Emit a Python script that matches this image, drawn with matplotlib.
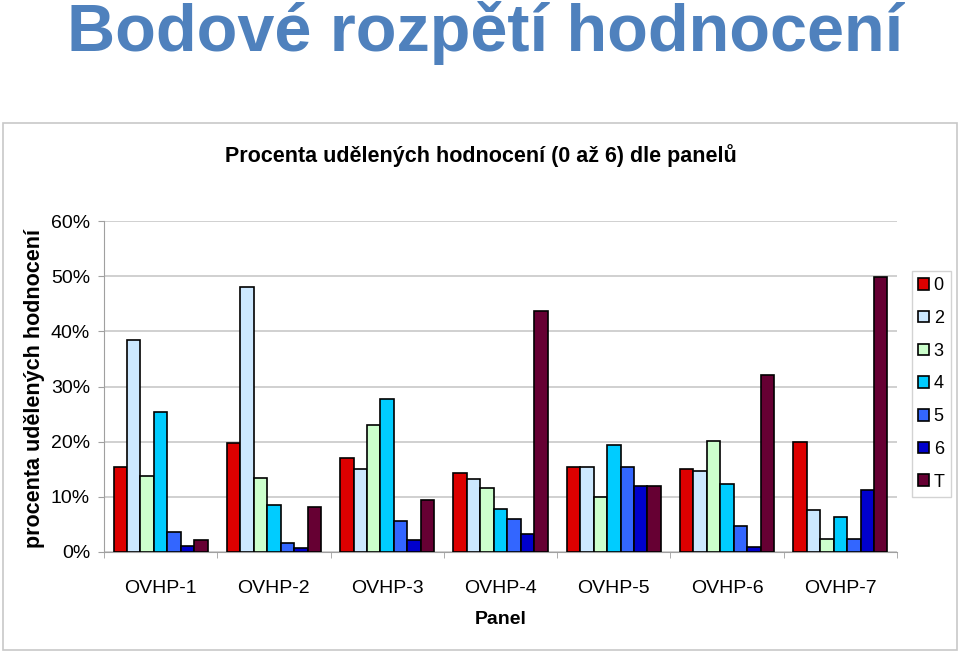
import matplotlib
matplotlib.use("Agg")
import matplotlib.pyplot as plt
import numpy as np
from matplotlib.patches import Rectangle
from matplotlib.ticker import FuncFormatter, FixedLocator

panels = ["OVHP-1", "OVHP-2", "OVHP-3", "OVHP-4", "OVHP-5", "OVHP-6", "OVHP-7"]
series_names = ["0", "2", "3", "4", "5", "6", "T"]
s0 = [15.4, 19.7, 17.0, 14.3, 15.4, 15.1, 20.0]
s2 = [38.5, 48.0, 15.1, 13.2, 15.4, 14.6, 7.6]
s3 = [13.7, 13.4, 23.0, 11.6, 9.9, 20.2, 2.4]
s4 = [25.3, 8.6, 27.8, 7.8, 19.4, 12.4, 6.3]
s5 = [3.7, 1.6, 5.7, 6.0, 15.4, 4.8, 2.4]
s6 = [1.1, 0.8, 2.1, 3.3, 12.0, 0.9, 11.3]
sT = [2.1, 8.1, 9.5, 43.7, 12.0, 32.1, 49.9]
series = [s0, s2, s3, s4, s5, s6, sT]
colors = ["#DD0000", "#CCE8FF", "#CCFFCC", "#00CCFF", "#3366FF", "#0000CC", "#660033"]

W, H = 960, 654
fig = plt.figure(figsize=(W / 100, H / 100), dpi=100)
fam = ["Liberation Sans", "DejaVu Sans"]

# outer chart frame
fig.patches.append(Rectangle((3 / W, 1 - 650 / H), 954 / W, 527 / H, transform=fig.transFigure,
                             fill=False, edgecolor="#C8C8C8", linewidth=1.2))

fig.text(485 / W, 1 - 51 / H, "Bodové rozpětí hodnocení", ha="center", va="baseline",
         fontsize=48, fontweight="bold", color="#4F81BD", family=fam)
fig.text(481 / W, 1 - 156 / H, "Procenta udělených hodnocení (0 až 6) dle panelů", ha="center",
         va="center", fontsize=15.5, fontweight="bold", color="black", family=fam)

left, right, top, bottom = 104, 897, 221, 552
ax = fig.add_axes([left / W, 1 - bottom / H, (right - left) / W, (bottom - top) / H])

n = len(series)
bw = 0.83 / n
x = np.arange(len(panels))
for i, (vals, c, name) in enumerate(zip(series, colors, series_names)):
    pos = x - 0.415 + bw * (i + 0.5)
    ax.bar(pos, vals, width=bw, color=c, edgecolor="black", linewidth=1.2, label=name, zorder=3)

ax.set_xlim(-0.5, len(panels) - 0.5)
ax.set_ylim(0, 60)
ax.set_yticks(np.arange(0, 61, 10))
ax.yaxis.set_major_formatter(FuncFormatter(lambda v, p: f"{int(v)}%"))
ax.set_xticks(x)
ax.set_xticklabels(panels, fontsize=14, family=fam)
ax.xaxis.set_minor_locator(FixedLocator(np.arange(-0.5, len(panels), 1)))
ax.tick_params(axis="x", which="major", length=0, pad=20)
ax.tick_params(axis="x", which="minor", length=4, color="#A0A0A0", direction="out")
ax.tick_params(axis="y", length=4, color="#A0A0A0", labelsize=14, pad=6)
for lbl in ax.get_yticklabels():
    lbl.set_family(fam)
ax.grid(axis="y", color="#C8C8C8", linewidth=1.2, zorder=0)
for s in ["top", "right"]:
    ax.spines[s].set_visible(False)
for s in ["left", "bottom"]:
    ax.spines[s].set_color("#A0A0A0")
ax.set_xlabel("Panel", fontsize=14, fontweight="bold", family=fam, labelpad=10)

fig.text(35 / W, 1 - 389 / H, "procenta udělených hodnocení", rotation=90, ha="center", va="center",
         fontsize=15.5, fontweight="bold", family=fam)

leg = ax.legend(loc="upper left", bbox_to_anchor=(912 / W, 1 - 271 / H), bbox_transform=fig.transFigure,
                borderaxespad=0, frameon=True, fancybox=False, edgecolor="#C8C8C8",
                handlelength=0.6, handleheight=0.6, handletextpad=0.25, labelspacing=0.87,
                borderpad=0.35, prop={"family": fam, "size": 13})
leg.get_frame().set_linewidth(1.0)

fig.savefig("out.png", dpi=100)
